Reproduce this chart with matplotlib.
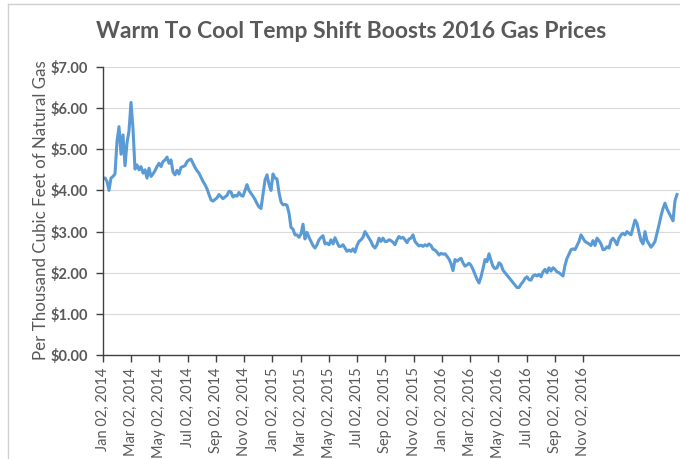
import numpy as np
import matplotlib
matplotlib.use("Agg")
import matplotlib.pyplot as plt
from matplotlib.lines import Line2D

# price per thousand cubic feet at even steps
prices = [
    4.30, 4.30, 4.22, 4.00, 4.30, 4.34, 4.40, 5.19, 5.55, 4.88,
    5.35, 4.60, 5.15, 5.45, 6.14, 5.50, 4.52, 4.62, 4.50, 4.58,
    4.42, 4.50, 4.30, 4.54, 4.34, 4.40, 4.48, 4.58, 4.66, 4.58,
    4.70, 4.74, 4.81, 4.66, 4.74, 4.45, 4.38, 4.49, 4.40, 4.56,
    4.58, 4.60, 4.70, 4.74, 4.76, 4.66, 4.56, 4.48, 4.42, 4.32,
    4.22, 4.14, 4.04, 3.90, 3.77, 3.74, 3.78, 3.82, 3.90, 3.85,
    3.80, 3.84, 3.88, 3.98, 3.96, 3.84, 3.88, 3.86, 3.95, 3.88,
    3.86, 4.00, 4.14, 4.00, 3.93, 3.86, 3.78, 3.68, 3.60, 3.56,
    3.90, 4.25, 4.38, 4.15, 4.00, 4.40, 4.30, 4.28, 3.95, 3.72,
    3.65, 3.66, 3.64, 3.45, 3.10, 3.06, 2.92, 2.92, 2.86, 2.94,
    3.18, 2.82, 2.98, 2.86, 2.76, 2.66, 2.60, 2.68, 2.80, 2.86,
    2.90, 2.70, 2.72, 2.68, 2.80, 2.70, 2.85, 2.74, 2.64, 2.64,
    2.68, 2.60, 2.52, 2.55, 2.52, 2.58, 2.50, 2.66, 2.76, 2.80,
    2.86, 3.00, 2.92, 2.84, 2.76, 2.65, 2.60, 2.68, 2.84, 2.76,
    2.84, 2.76, 2.76, 2.80, 2.78, 2.74, 2.68, 2.80, 2.88, 2.84,
    2.86, 2.80, 2.73, 2.82, 2.84, 2.92, 2.76, 2.70, 2.65, 2.67,
    2.64, 2.68, 2.65, 2.70, 2.66, 2.57, 2.55, 2.50, 2.43, 2.47,
    2.45, 2.46, 2.40, 2.33, 2.22, 2.05, 2.32, 2.28, 2.32, 2.35,
    2.24, 2.16, 2.19, 2.23, 2.18, 2.08, 1.96, 1.84, 1.75, 1.90,
    2.10, 2.32, 2.27, 2.46, 2.30, 2.15, 2.10, 2.12, 2.24, 2.20,
    2.06, 2.00, 1.94, 1.88, 1.82, 1.76, 1.70, 1.64, 1.64, 1.72,
    1.78, 1.86, 1.90, 1.83, 1.82, 1.92, 1.95, 1.92, 1.96, 1.90,
    2.02, 2.08, 2.00, 2.12, 2.04, 2.12, 2.08, 2.02, 2.00, 1.96,
    1.92, 2.18, 2.35, 2.45, 2.56, 2.58, 2.56, 2.66, 2.76, 2.92,
    2.84, 2.76, 2.73, 2.70, 2.66, 2.78, 2.66, 2.84, 2.78, 2.70,
    2.56, 2.57, 2.63, 2.60, 2.78, 2.84, 2.77, 2.68, 2.84, 2.92,
    2.96, 2.92, 3.00, 2.96, 2.92, 3.10, 3.28, 3.20, 2.98, 2.78,
    2.70, 3.00, 2.78, 2.70, 2.62, 2.68, 2.76, 2.96, 3.16, 3.38,
    3.56, 3.69, 3.55, 3.45, 3.36, 3.26, 3.75, 3.90,
]

tick_labels = [
    "Jan 02, 2014", "Mar 02, 2014", "May 02, 2014", "Jul 02, 2014",
    "Sep 02, 2014", "Nov 02, 2014", "Jan 02, 2015", "Mar 02, 2015",
    "May 02, 2015", "Jul 02, 2015", "Sep 02, 2015", "Nov 02, 2015",
    "Jan 02, 2016", "Mar 02, 2016", "May 02, 2016", "Jul 02, 2016",
    "Sep 02, 2016", "Nov 02, 2016",
]

y_ticks = [0, 1, 2, 3, 4, 5, 6, 7]

plt.rcParams['font.family'] = ['Lato', 'DejaVu Sans']

gray = '#595959'
fig = plt.figure(figsize=(6.8, 4.59), dpi=100)
ax = fig.add_axes([103 / 680, 1 - 355 / 459, 1 - 103 / 680, 288 / 459])

x = np.arange(len(prices))
ax.plot(x, prices, color='#5B9BD5', linewidth=2.2, solid_joinstyle='round')

# ticks every ~14 points (two months on the original axis)
step = 14.12
ax.set_xticks(np.arange(len(tick_labels)) * step)
ax.set_xticklabels(tick_labels, rotation=90, fontsize=10.5, color=gray)
ax.set_xlim(0, 288.5)

ax.set_ylim(0, 7)
ax.set_yticks(y_ticks)
ax.set_yticklabels([f"${v:.2f}" for v in y_ticks], fontsize=10.5,
                   color=gray, fontweight='bold')

ax.grid(axis='y', color='#D9D9D9', linewidth=0.8)
ax.set_axisbelow(True)
for s in ['top', 'right']:
    ax.spines[s].set_visible(False)
for s in ['left', 'bottom']:
    ax.spines[s].set_color('#404040')
    ax.spines[s].set_linewidth(1.0)
ax.tick_params(axis='both', direction='out', length=5, color='#404040', width=1)
ax.tick_params(axis='y', pad=6)
ax.tick_params(axis='x', pad=4)

fig.text(0.516, 1 - 32 / 459, "Warm To Cool Temp Shift Boosts 2016 Gas Prices",
         ha='center', va='center', fontsize=16.5, fontweight='bold', color=gray)
fig.text(41 / 680, 1 - 210 / 459, "Per Thousand Cubic Feet of Natural Gas",
         rotation=90, ha='center', va='center', fontsize=12.2, color=gray)

# chart area border (top and left edges visible)
fig.add_artist(Line2D([8 / 680, 8 / 680], [0, 1 - 4 / 459], color='#D0D0D0', linewidth=1))
fig.add_artist(Line2D([8 / 680, 1], [1 - 4 / 459, 1 - 4 / 459], color='#D0D0D0', linewidth=1))

fig.savefig('out.png', dpi=100)
